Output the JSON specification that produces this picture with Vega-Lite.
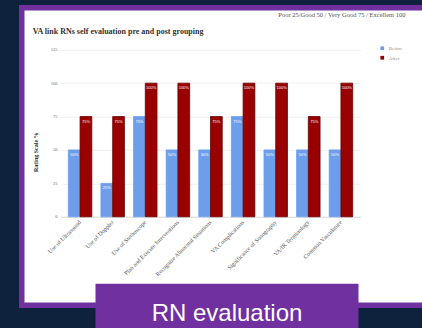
{
  "$schema": "https://vega.github.io/schema/vega-lite/v6.json",
  "autosize": "none",
  "background": "#0f223d",
  "padding": {"left": 21.75, "top": 7.75, "right": -5.75, "bottom": 22.75},
  "width": 406,
  "height": 297.5,
  "view": {"fill": "white", "stroke": "#7030a0", "strokeWidth": 5.5},
  "title": {"text": "VA link RNs self evaluation pre and post grouping", "anchor": "start", "frame": "group", "offset": -28, "dx": 11, "font": "Liberation Serif", "fontSize": 8, "fontWeight": "bold", "color": "#333333"},
  "datasets": {
    "scores": [
      {"skill": "Use of Ultrasound", "phase": "Before", "score": 50, "label": "50%"},
      {"skill": "Use of Ultrasound", "phase": "After", "score": 75, "label": "75%"},
      {"skill": "Use of Doppler", "phase": "Before", "score": 25, "label": "25%"},
      {"skill": "Use of Doppler", "phase": "After", "score": 75, "label": "75%"},
      {"skill": "Use of Stethoscope", "phase": "Before", "score": 75, "label": "75%"},
      {"skill": "Use of Stethoscope", "phase": "After", "score": 100, "label": "100%"},
      {"skill": "Plan and Execute Interventions", "phase": "Before", "score": 50, "label": "50%"},
      {"skill": "Plan and Execute Interventions", "phase": "After", "score": 100, "label": "100%"},
      {"skill": "Recognize Abnormal Situations", "phase": "Before", "score": 50, "label": "50%"},
      {"skill": "Recognize Abnormal Situations", "phase": "After", "score": 75, "label": "75%"},
      {"skill": "VA Complications", "phase": "Before", "score": 75, "label": "75%"},
      {"skill": "VA Complications", "phase": "After", "score": 100, "label": "100%"},
      {"skill": "Significance of Sonography", "phase": "Before", "score": 50, "label": "50%"},
      {"skill": "Significance of Sonography", "phase": "After", "score": 100, "label": "100%"},
      {"skill": "VA/IR Terminology", "phase": "Before", "score": 50, "label": "50%"},
      {"skill": "VA/IR Terminology", "phase": "After", "score": 75, "label": "75%"},
      {"skill": "Common Vasculature", "phase": "Before", "score": 50, "label": "50%"},
      {"skill": "Common Vasculature", "phase": "After", "score": 100, "label": "100%"}
    ],
    "captions": [
      {"caption": "RN evaluation", "note": "Poor 25/Good 50 / Very Good 75 / Excellent 100"}
    ]
  },
  "layer": [
    {
      "data": {"name": "scores"},
      "encoding": {
        "x": {
          "field": "skill", "type": "nominal", "sort": null,
          "scale": {"range": [38.75, 338.75], "paddingInner": 0.28, "paddingOuter": 0.24},
          "axis": {"orient": "bottom", "offset": -88.5, "title": null, "labelAngle": -45, "labelAlign": "right", "labelBaseline": "middle", "labelFont": "Liberation Serif", "labelFontSize": 6, "labelColor": "#555555", "labelPadding": 4, "ticks": false, "domain": true, "domainColor": "#dddddd", "grid": false}
        },
        "xOffset": {"field": "phase", "type": "nominal", "sort": ["Before", "After"]},
        "y": {
          "field": "score", "type": "quantitative",
          "scale": {"domain": [0, 125], "range": [209, 42], "nice": false},
          "axis": {"orient": "left", "offset": -38.75, "values": [0, 25, 50, 75, 100, 125], "title": "Rating Scale %", "titleFont": "Liberation Serif", "titleFontSize": 6, "titleFontWeight": "bold", "titleColor": "#333333", "titleX": -22, "titleY": 144, "labelFont": "Liberation Serif", "labelFontSize": 4.5, "labelColor": "#666666", "labelPadding": 3.5, "ticks": false, "domain": false, "grid": true, "gridColor": "#ececec", "gridWidth": 0.8}
        }
      },
      "layer": [
        {
          "mark": {"type": "bar", "strokeWidth": 0.8},
          "encoding": {
            "color": {"field": "phase", "type": "nominal", "sort": ["Before", "After"],
              "scale": {"domain": ["Before", "After"], "range": ["#6d9eeb", "#990000"]},
              "legend": {"orient": "none", "legendX": 358, "legendY": 38, "title": null, "symbolType": "square", "symbolSize": 14, "symbolStrokeWidth": 0, "labelFontSize": 5, "labelFont": "Liberation Serif", "labelColor": "#888888", "rowPadding": 3.5, "labelOffset": 4}},
            "stroke": {"field": "phase", "type": "nominal", "scale": {"domain": ["Before", "After"], "range": ["#6d9eeb", "#6a0000"]}, "legend": null}
          }
        },
        {
          "mark": {"type": "text", "baseline": "top", "dy": 3, "fontSize": 4, "color": "white", "font": "Liberation Sans"},
          "encoding": {"text": {"field": "label"}}
        }
      ]
    },
    {
      "data": {"name": "captions"},
      "mark": {"type": "text", "opacity": 0},
      "encoding": {
        "text": {"field": "caption"},
        "x": {
          "field": "caption", "type": "nominal",
          "scale": {"range": [73.25, 336.25], "paddingInner": 0, "paddingOuter": 0},
          "axis": {"orient": "top", "offset": -297.75, "labels": false, "ticks": false, "grid": false, "domain": true, "domainColor": "#7030a0", "domainWidth": 44.5, "domainCap": "butt", "title": "RN evaluation", "titleFont": "Liberation Sans", "titleFontSize": 24, "titleFontWeight": "normal", "titleColor": "white", "titleBaseline": "alphabetic", "titleY": 14.5, "titlePadding": 0}
        },
        "y": {
          "field": "note", "type": "nominal",
          "axis": {"orient": "right", "labels": false, "ticks": false, "grid": false, "domain": false, "title": "Poor 25/Good 50 / Very Good 75 / Excellent 100", "titleAngle": 0, "titleAlign": "right", "titleBaseline": "alphabetic", "titleX": -22.75, "titleY": 8.25, "titleFont": "Liberation Serif", "titleFontSize": 6.5, "titleFontWeight": "normal", "titleColor": "#555555"}
        }
      }
    }
  ],
  "resolve": {"scale": {"x": "independent", "y": "independent"}, "axis": {"x": "independent", "y": "independent"}}
}
